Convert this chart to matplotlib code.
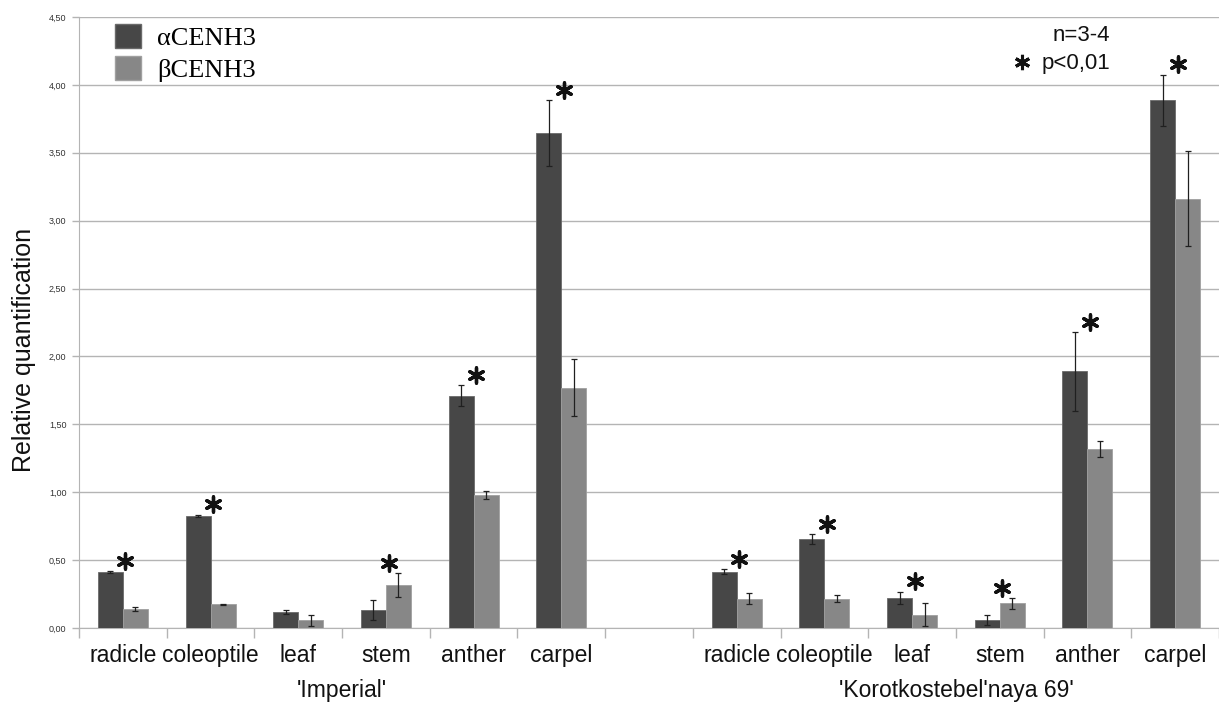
import numpy as np
import matplotlib.pyplot as plt
from matplotlib.patches import Patch

# tissues, two cultivars, blank slot between them
tissues = ['radicle', 'coleoptile', 'leaf', 'stem', 'anther', 'carpel']
cultivars = ["'Imperial'", "'Korotkostebel'naya 69'"]

# Imperial
imp_alpha = [0.41, 0.825, 0.115, 0.135, 1.71, 3.645]
imp_alpha_err = [0.008, 0.010, 0.015, 0.074, 0.078, 0.245]
imp_beta = [0.14, 0.175, 0.058, 0.318, 0.98, 1.77]
imp_beta_err = [0.017, 0.005, 0.040, 0.089, 0.030, 0.210]
imp_sig = [True, True, False, True, True, True]

# Korotkostebel'naya 69
kor_alpha = [0.415, 0.655, 0.224, 0.059, 1.89, 3.885]
kor_alpha_err = [0.020, 0.037, 0.045, 0.034, 0.290, 0.190]
kor_beta = [0.217, 0.217, 0.098, 0.183, 1.32, 3.16]
kor_beta_err = [0.040, 0.026, 0.083, 0.040, 0.060, 0.350]
kor_sig = [True, True, True, True, True, True]

dark = '#474747'
light = '#878787'
grid_c = '#b4b4b4'
star = dict(marker=(6, 2, 0), s=120, linewidths=2.4, color='#111111', zorder=5)

fig = plt.figure(figsize=(12.19, 7.07), dpi=100)
ax = fig.add_axes([0.0648, 0.1117, 0.9352, 0.8643])

x_imp = np.arange(6)
x_kor = np.arange(7, 13)
w = 0.285

for xs, a, ae, b, be, sig in [(x_imp, imp_alpha, imp_alpha_err, imp_beta, imp_beta_err, imp_sig),
                              (x_kor, kor_alpha, kor_alpha_err, kor_beta, kor_beta_err, kor_sig)]:
    ax.bar(xs - w / 2, a, w, color=dark, edgecolor='#6a6a6a', linewidth=0.6, zorder=3)
    ax.bar(xs + w / 2, b, w, color=light, edgecolor='#a0a0a0', linewidth=0.6, zorder=3)
    ax.errorbar(xs - w / 2, a, yerr=ae, fmt='none', ecolor='#202020', elinewidth=0.9,
                capsize=2.5, capthick=0.9, zorder=4)
    ax.errorbar(xs + w / 2, b, yerr=be, fmt='none', ecolor='#202020', elinewidth=0.9,
                capsize=2.5, capthick=0.9, zorder=4)
    for i, s in enumerate(sig):
        if s:
            top = max(a[i] + ae[i], b[i] + be[i])
            ax.scatter(xs[i] + 0.03, top + 0.075, clip_on=False, **star)

ax.set_xlim(-0.5, 12.5)
ax.set_ylim(0, 4.5)
yt = np.arange(0, 4.51, 0.5)
ax.set_yticks(yt)
ax.set_yticklabels([f'{v:.2f}'.replace('.', ',') for v in yt], fontsize=6.5, color='#333333',
                   family='Liberation Sans')
ax.yaxis.grid(True, color=grid_c, linewidth=1.0, zorder=0)
ax.set_axisbelow(True)
ax.tick_params(axis='y', length=5, color=grid_c, width=1.0, pad=4)

ax.set_xticks(np.arange(-0.5, 12.6, 1.0))
ax.set_xticklabels([])
ax.tick_params(axis='x', length=7, color=grid_c, width=1.0)
for x, t in zip(list(x_imp) + list(x_kor), tissues + tissues):
    ax.text(x, -0.045, t, transform=ax.get_xaxis_transform(), ha='center', va='center',
            fontsize=16.5, family='Liberation Sans', color='#111111')
ax.text(x_imp.mean(), -0.102, cultivars[0], transform=ax.get_xaxis_transform(), ha='center',
        va='center', fontsize=16.5, family='Liberation Sans', color='#111111')
ax.text(x_kor.mean(), -0.102, cultivars[1], transform=ax.get_xaxis_transform(), ha='center',
        va='center', fontsize=16.5, family='Liberation Sans', color='#111111')

for side in ['top', 'right']:
    ax.spines[side].set_visible(False)
ax.spines['left'].set_color(grid_c)
ax.spines['bottom'].set_color(grid_c)

fig.text(0.02, 0.505, 'Relative quantification', rotation=90, ha='center', va='center',
         fontsize=18, family='Liberation Sans', color='#111111')

# legend
handles = [Patch(facecolor=dark, edgecolor='#6a6a6a', label='\u03b1CENH3'),
           Patch(facecolor=light, edgecolor='#a0a0a0', label='\u03b2CENH3')]
ax.legend(handles=handles, loc='upper left', bbox_to_anchor=(0.02, 1.01), frameon=False,
          prop={'family': 'Liberation Serif', 'size': 19}, handlelength=1.0, handleheight=1.0,
          handletextpad=0.6, labelspacing=0.25, borderaxespad=0.1)

fig.text(0.911, 0.95, 'n=3-4', ha='right', va='center', fontsize=16, family='Liberation Sans',
         color='#111111')
fig.text(0.911, 0.91, 'p<0,01', ha='right', va='center', fontsize=16, family='Liberation Sans',
         color='#111111')
fig.add_artist(plt.Line2D([0.8385], [0.912], transform=fig.transFigure, marker=(6, 2, 0),
                          markersize=11, markeredgewidth=2.2, color='#111111', linestyle='none'))

fig.savefig('out.png', dpi=100)
